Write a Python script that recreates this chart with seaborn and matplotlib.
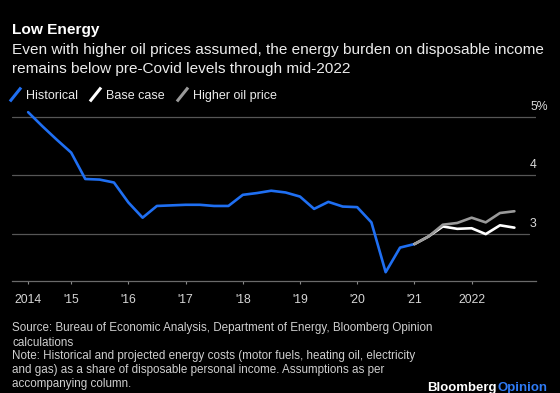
import numpy as np
import pandas as pd
import matplotlib
matplotlib.use("Agg")
import matplotlib.pyplot as plt
import matplotlib.transforms as mtransforms
from matplotlib.lines import Line2D
from matplotlib.path import Path
import seaborn as sns

# ---------------- data ----------------
hist_dates = pd.date_range("2014-04-01", periods=28, freq="QS")
hist_values = [5.08, 4.84, 4.61, 4.39, 3.94, 3.93, 3.88, 3.54, 3.28, 3.48,
               3.49, 3.50, 3.50, 3.48, 3.48, 3.67, 3.70, 3.74, 3.71, 3.64,
               3.43, 3.55, 3.47, 3.46, 3.20, 2.35, 2.77, 2.83]
proj_dates = pd.date_range("2021-01-01", periods=8, freq="QS")
base_values = [2.83, 2.96, 3.13, 3.09, 3.10, 3.00, 3.15, 3.11]
high_values = [2.83, 2.96, 3.16, 3.19, 3.28, 3.20, 3.36, 3.39]

series_names = ["Historical", "Base case", "Higher oil price"]
series_colors = ["#1f6ff2", "#ffffff", "#9a9a9a"]

tick_dates = ["2014-04-01", "2015-01-01", "2016-01-01", "2017-01-01", "2018-01-01",
              "2019-01-01", "2020-01-01", "2021-01-01", "2022-01-01"]
tick_labels = ["2014", "'15", "'16", "'17", "'18", "'19", "'20", "'21", "2022"]
y_ticks = [3, 4, 5]
y_labels = ["3", "4", "5%"]

title = "Low Energy"
subtitle = ["Even with higher oil prices assumed, the energy burden on disposable income",
            "remains below pre-Covid levels through mid-2022"]
footer = ["Source: Bureau of Economic Analysis, Department of Energy, Bloomberg Opinion",
          "calculations",
          "Note: Historical and projected energy costs (motor fuels, heating oil, electricity",
          "and gas) as a share of disposable personal income. Assumptions as per",
          "accompanying column."]

df = pd.concat([
    pd.DataFrame({"date": hist_dates, "value": hist_values, "series": series_names[0]}),
    pd.DataFrame({"date": proj_dates, "value": base_values, "series": series_names[1]}),
    pd.DataFrame({"date": proj_dates, "value": high_values, "series": series_names[2]}),
], ignore_index=True)

# ---------------- style ----------------
sns.set_theme(style="dark")
plt.rcParams["font.family"] = ["Liberation Sans", "DejaVu Sans"]

W, H = 560, 393
fig = plt.figure(figsize=(W / 100, H / 100), dpi=100, facecolor="black")

def fx(x):
    return x / W

def fy(y):
    return 1 - y / H

ax_left, ax_right, ax_top, ax_bottom = 12, 536, 102.2, 281
ax = fig.add_axes([fx(ax_left), fy(ax_bottom), (ax_right - ax_left) / W, (ax_bottom - ax_top) / H])
ax.set_facecolor("black")

sns.lineplot(data=df, x="date", y="value", hue="series", hue_order=series_names,
             palette=dict(zip(series_names, series_colors)), linewidth=1.9,
             legend=False, ax=ax, estimator=None, sort=False)

ax.set_xlim(pd.Timestamp("2013-12-19"), pd.Timestamp("2023-02-16"))
ax.set_ylim(2.2, 5.25)
ax.set_xlabel("")
ax.set_ylabel("")
ax.grid(False)
for s in ["top", "left", "right"]:
    ax.spines[s].set_visible(False)
ax.spines["bottom"].set_color("#6a6a6a")
ax.spines["bottom"].set_linewidth(0.9)

# gridlines
for v in y_ticks:
    ax.axhline(v, color="#565656", linewidth=0.9, zorder=0,
               xmax=(0.9866 if v == 3 else 1.0))

ax.set_xticks(pd.to_datetime(tick_dates))
ax.set_xticklabels(tick_labels)
ax.tick_params(axis="x", bottom=True, direction="out", length=2.5, width=0.8,
               color="#8a8a8a", labelcolor="#d6d6d6", labelsize=8.7, pad=7)

ax.set_yticks(y_ticks)
ax.set_yticklabels(y_labels)
ax.yaxis.tick_right()
ax.tick_params(axis="y", left=False, right=False, labelleft=False, labelright=True,
               length=0, pad=-4.3, labelcolor="#dcdcdc", labelsize=8.8)
for lab in ax.get_yticklabels():
    lab.set_horizontalalignment("left")
    lab.set_transform(lab.get_transform() + mtransforms.ScaledTranslation(0, 11.5 / 100, fig.dpi_scale_trans))

# ---------------- texts ----------------
t_title = fig.text(fx(12.5), fy(34), title, color="white", fontsize=11, fontweight="bold",
                   va="baseline", ha="left")
t_sub = [fig.text(fx(12.5), fy(y), s, color="#ececec", fontsize=10, va="baseline", ha="left")
         for s, y in zip(subtitle, [53.6, 72.5])]
t_foot = [fig.text(fx(12.5), fy(y), s, color="#cfcfcf", fontsize=8, va="baseline", ha="left")
          for s, y in zip(footer, [331.5, 345.5, 359.5, 373.5, 387.5])]

fig.canvas.draw()
r = fig.canvas.get_renderer()

def fit(texts, target):
    w = texts[0].get_window_extent(r).width
    fs = texts[0].get_fontsize() * target / w
    for t in texts:
        t.set_fontsize(fs)

fit([t_title], 87.5)
fit(t_sub, 534)
fit(t_foot, 422)

# legend with slash markers
slash = Path([(-0.8, -1.0), (0.8, 1.0)], [Path.MOVETO, Path.LINETO])
handles = [Line2D([], [], linestyle="none", marker=slash, markersize=10,
                  markeredgewidth=2.2, markeredgecolor=c, markerfacecolor=c)
           for c in series_colors]
leg = fig.legend(handles, series_names, loc="center left",
                 bbox_to_anchor=(fx(9), fy(95.7)), ncol=3, frameon=False,
                 handlelength=1.0, handletextpad=0.35, columnspacing=0.9,
                 borderpad=0, borderaxespad=0, fontsize=9)
for t in leg.get_texts():
    t.set_color("#ececec")

# logo
lb = fig.text(fx(547), fy(391.5), "Opinion", color="#2f7bf5", fontsize=9.5,
              fontweight="bold", ha="right", va="baseline")
fig.canvas.draw()
bb = lb.get_window_extent(r)
fig.text(bb.x0 / W, fy(391.5), "Bloomberg", color="white", fontsize=9.5,
         fontweight="bold", ha="right", va="baseline")

fig.savefig("out.png", dpi=100, facecolor="black")
